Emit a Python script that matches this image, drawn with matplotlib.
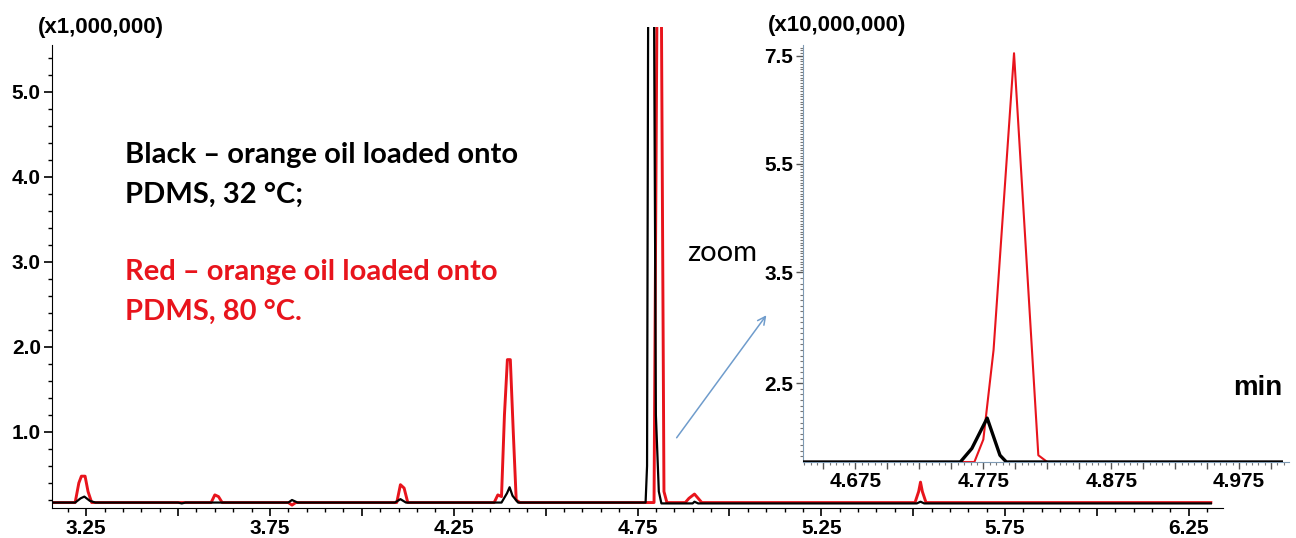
import numpy as np
import matplotlib.pyplot as plt
from matplotlib.patches import FancyArrowPatch
from matplotlib.ticker import MultipleLocator, FixedLocator, FormatStrFormatter

# full run: retention time (min) and intensity (x1,000,000)
t_black = [3.16, 3.22, 3.235, 3.245, 3.26, 3.275, 3.50, 3.51, 3.52, 3.80, 3.81, 3.825,
           4.09, 4.105, 4.12, 4.38, 4.395, 4.402, 4.41, 4.425, 4.772, 4.776, 4.779, 4.795,
           4.800, 4.808, 4.815, 4.90, 4.905, 4.915, 5.51, 5.52, 5.53, 6.31]
i_black = [0.17, 0.17, 0.22, 0.24, 0.19, 0.17, 0.17, 0.16, 0.17, 0.17, 0.20, 0.17,
           0.17, 0.21, 0.17, 0.17, 0.28, 0.35, 0.25, 0.17, 0.17, 0.60, 6.00, 6.00,
           1.20, 0.30, 0.16, 0.16, 0.18, 0.16, 0.16, 0.18, 0.16, 0.16]

t_red = [3.16, 3.22, 3.23, 3.237, 3.247, 3.255, 3.265, 3.59, 3.60, 3.61, 3.62, 3.80,
         3.81, 3.82, 4.095, 4.105, 4.115, 4.125, 4.36, 4.37, 4.38, 4.388, 4.396, 4.404,
         4.412, 4.42, 4.43, 4.795, 4.803, 4.815, 4.822, 4.83, 4.88, 4.89, 4.905, 4.925,
         5.505, 5.515, 5.52, 5.525, 5.535, 6.31]
i_red = [0.17, 0.17, 0.40, 0.48, 0.48, 0.30, 0.17, 0.17, 0.26, 0.24, 0.17, 0.17,
         0.14, 0.17, 0.17, 0.38, 0.34, 0.17, 0.17, 0.26, 0.24, 1.20, 1.85, 1.85,
         1.00, 0.20, 0.17, 0.17, 6.00, 6.00, 0.30, 0.17, 0.17, 0.22, 0.27, 0.17,
         0.17, 0.30, 0.41, 0.30, 0.17, 0.17]

# close-up around 4.78 min: intensity (x10,000,000)
zt_black = [4.634, 4.757, 4.766, 4.778, 4.788, 4.793, 5.008]
zi_black = [1.80, 1.80, 1.92, 2.19, 1.86, 1.80, 1.80]
zt_red = [4.634, 4.768, 4.775, 4.783, 4.799, 4.818, 4.825, 5.008]
zi_red = [1.80, 1.80, 2.00, 2.80, 7.55, 1.86, 1.80, 1.80]

main_ticks = [3.25, 3.75, 4.25, 4.75, 5.25, 5.75, 6.25]
zoom_xticks = [4.675, 4.775, 4.875, 4.975]
zoom_yticks = [2.5, 3.5, 5.5, 7.5]

# the close-up y axis is stretched unevenly between its labelled values
knot_val = [1.80, 2.5, 3.5, 5.5, 7.5, 7.70]
knot_pos = [0.0, 79.0, 190.0, 299.0, 407.0, 418.0]


def fwd(v):
    return np.interp(v, knot_val, knot_pos)


def inv(p):
    return np.interp(p, knot_pos, knot_val)


def pick(labels, fmt):
    return lambda v, p: fmt.format(v) if any(abs(v - m) < 1e-6 for m in labels) else ''


W, H = 1296, 538
fig = plt.figure(figsize=(W / 100, H / 100), dpi=100)
tick_font = {'family': 'Liberation Sans', 'weight': 'bold', 'size': 15}

# ---- main chromatogram ----
ax = fig.add_axes([52 / W, 1 - 508 / H, (1223 - 52) / W, (508 - 27) / H])
ax.plot(t_red, i_red, color='#e8141c', lw=2.1, zorder=2)
ax.plot(t_black, i_black, color='black', lw=1.6, zorder=3)
ax.set_xlim(3.157, 6.343)
ax.set_ylim(0.106, 5.76)
for s in ['top', 'right']:
    ax.spines[s].set_visible(False)
ax.spines['left'].set_bounds(0.106, 5.55)
ax.xaxis.set_major_locator(MultipleLocator(0.25))
ax.xaxis.set_minor_locator(MultipleLocator(0.05))
ax.xaxis.set_major_formatter(pick(main_ticks, '{:.2f}'))
ax.yaxis.set_major_locator(FixedLocator([1.0, 2.0, 3.0, 4.0, 5.0]))
ax.yaxis.set_minor_locator(FixedLocator(np.arange(0.2, 5.6, 0.2)))
ax.yaxis.set_major_formatter(FormatStrFormatter('%.1f'))
ax.tick_params(axis='both', which='major', length=6, width=1.2, pad=2)
ax.tick_params(axis='both', which='minor', length=3, width=1)
for lab in ax.get_xticklabels() + ax.get_yticklabels():
    lab.set_fontproperties(tick_font)
fig.text(38 / W, 1 - 28 / H, '(x1,000,000)', fontfamily='Liberation Sans',
         fontweight='bold', fontsize=16, va='center')

# ---- close-up panel ----
ins = fig.add_axes([803 / W, 1 - 462 / H, (1289 - 803) / W, (462 - 45) / H])
ins.set_yscale('function', functions=(fwd, inv))
ins.plot(zt_red, zi_red, color='#e8141c', lw=1.5, zorder=2)
ins.plot(zt_black, zi_black, color='black', lw=2.4, zorder=3)
ins.set_xlim(4.634, 5.014)
ins.set_ylim(1.80, 7.70)
for s in ['top', 'right']:
    ins.spines[s].set_visible(False)
for s in ['left', 'bottom']:
    ins.spines[s].set_color('#7f9bb5')
ins.xaxis.set_major_locator(MultipleLocator(0.025))
ins.xaxis.set_minor_locator(MultipleLocator(0.005))
ins.xaxis.set_major_formatter(pick(zoom_xticks, '{:.3f}'))
ins.yaxis.set_major_locator(FixedLocator(zoom_yticks))
ins.yaxis.set_minor_locator(FixedLocator(np.arange(1.85, 7.7, 0.05)))
ins.yaxis.set_major_formatter(FormatStrFormatter('%.1f'))
ins.yaxis.set_minor_formatter(lambda v, p: '')
ins.tick_params(axis='both', which='major', length=5, width=1, pad=2,
                color='#555555')
ins.tick_params(axis='both', which='minor', length=2.5, width=0.8,
                color='#777777')
for lab in ins.get_xticklabels() + ins.get_yticklabels():
    lab.set_fontproperties(tick_font)
fig.text(768 / W, 1 - 25 / H, '(x10,000,000)', fontfamily='Liberation Sans',
         fontweight='bold', fontsize=16, va='center')

# ---- annotations ----
note = dict(fontfamily='Lato', fontweight='bold', fontsize=21, va='center')
fig.text(125 / W, 1 - 155 / H, 'Black – orange oil loaded onto', color='black', **note)
fig.text(125 / W, 1 - 195 / H, 'PDMS, 32 °C;', color='black', **note)
fig.text(125 / W, 1 - 272 / H, 'Red – orange oil loaded onto', color='#e8141c', **note)
fig.text(125 / W, 1 - 312 / H, 'PDMS, 80 °C.', color='#e8141c', **note)
fig.text(722 / W, 1 - 253 / H, 'zoom', fontfamily='Lato', fontsize=21,
         ha='center', va='center')
fig.text(1258 / W, 1 - 388 / H, 'min', fontfamily='Liberation Sans',
         fontweight='bold', fontsize=20, ha='center', va='center')
fig.patches.append(FancyArrowPatch(
    (675 / W, 1 - 440 / H), (768 / W, 1 - 313 / H), transform=fig.transFigure,
    arrowstyle='->', mutation_scale=14, color='#6f9ccc', lw=1.1))

fig.savefig('out.png', dpi=100, facecolor='white')
